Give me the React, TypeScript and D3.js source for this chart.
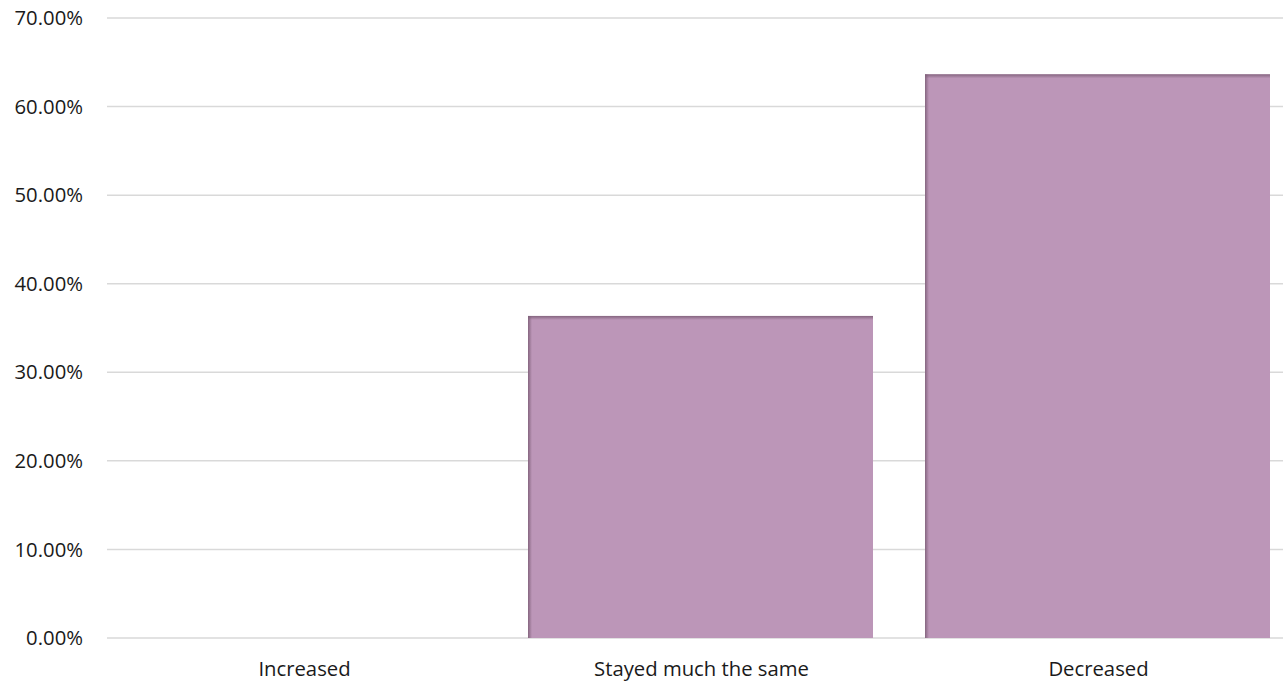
import React from "react";
import * as d3 from "d3";

const categories = ["Increased", "Stayed much the same", "Decreased"];
const values = [0, 0.3636, 0.6364];
const yTicks = [0, 0.1, 0.2, 0.3, 0.4, 0.5, 0.6, 0.7];

const W = 1283;
const H = 681;
const FONT = "'Open Sans', Lato, 'Liberation Sans', sans-serif";
const FS = 20.3;

export default function App() {
  const x = d3.scaleBand<string>().domain(categories).range([105, 1296]).paddingInner(0.131).paddingOuter(0.0655);
  const y = d3.scaleLinear().domain([0, 0.7]).range([638, 18]);
  const fmt = (v: number) => (v * 100).toFixed(2) + "%";

  return (
    <svg width={W} height={H} style={{ position: "absolute", left: 0, top: 0, background: "#fff" }}>
      <defs>
        <linearGradient id="shL" x1="0" x2="1" y1="0" y2="0">
          <stop offset="0" stopColor="#7f6079" stopOpacity="0.9" />
          <stop offset="1" stopColor="#7f6079" stopOpacity="0" />
        </linearGradient>
        <linearGradient id="shT" x1="0" x2="0" y1="0" y2="1">
          <stop offset="0" stopColor="#7f6079" stopOpacity="0.9" />
          <stop offset="1" stopColor="#7f6079" stopOpacity="0" />
        </linearGradient>
      </defs>
      {yTicks.map((t) => (
        <g key={t}>
          <line x1={107} x2={W} y1={y(t)} y2={y(t)} stroke="#d9d9d9" strokeWidth={1.5} />
          <text x={83} y={y(t)} dy="0.35em" textAnchor="end" fontFamily={FONT} fontSize={FS} fill="#1a1a1a">
            {fmt(t)}
          </text>
        </g>
      ))}
      {categories.map((c, i) => {
        const v = values[i];
        const bx = x(c)!;
        const bw = x.bandwidth();
        const top = y(v);
        const h = y(0) - top;
        return (
          <g key={c}>
            {h > 0 && (
              <>
                <rect x={bx} y={top} width={bw} height={h} fill="#bc96b8" />
                <rect x={bx} y={top} width={4} height={h} fill="url(#shL)" />
                <rect x={bx} y={top} width={bw} height={4} fill="url(#shT)" />
              </>
            )}
            <text x={bx + bw / 2 + 1} y={676} textAnchor="middle" fontFamily={FONT} fontSize={FS} fill="#1a1a1a">
              {c}
            </text>
          </g>
        );
      })}
    </svg>
  );
}
